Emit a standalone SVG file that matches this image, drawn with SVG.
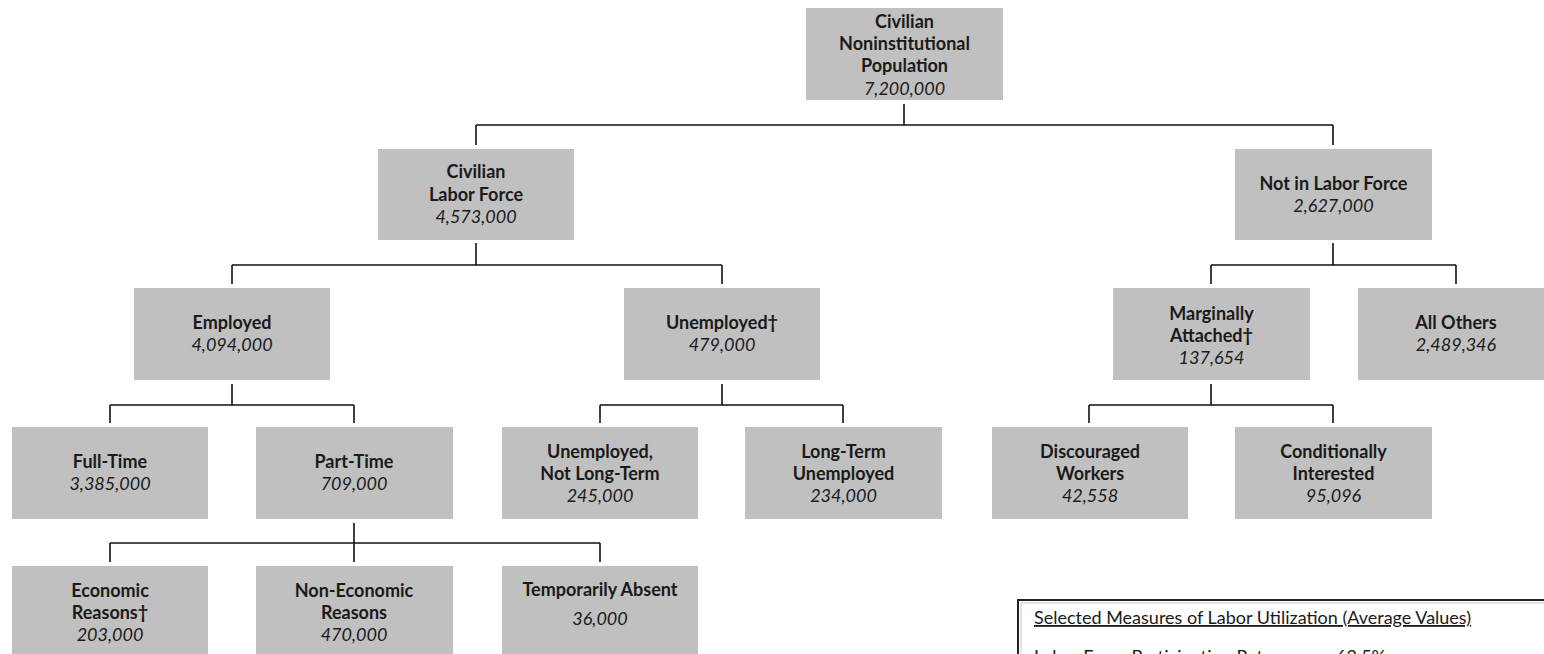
<svg xmlns="http://www.w3.org/2000/svg" width="1544" height="654" viewBox="0 0 1544 654">
<style>
.box{fill:#c0c0c0;}
.t{font-family:Lato,"Liberation Sans",sans-serif;font-size:18px;font-weight:bold;fill:#1a1a1a;text-anchor:middle;}
.n{font-family:Lato,"Liberation Sans",sans-serif;font-size:18px;font-style:italic;fill:#1a1a1a;text-anchor:middle;}
.c{fill:none;stroke:#111;stroke-width:1.6;}
.m{font-family:Lato,"Liberation Sans",sans-serif;font-size:18px;fill:#1a1a1a;}
</style>
<rect width="1544" height="654" fill="#ffffff"/>
<g id="connectors">
<path class="c" d="M904,104 V125 M476,125 H1333 M476,125 V145 M1333,125 V145"/>
<path class="c" d="M476,243 V265 M232,265 H722 M232,265 V284 M722,265 V284"/>
<path class="c" d="M1333,243 V265 M1211,265 H1456 M1211,265 V284 M1456,265 V284"/>
<path class="c" d="M232,384 V405 M110,405 H354 M110,405 V423 M354,405 V423"/>
<path class="c" d="M722,384 V405 M600,405 H843 M600,405 V423 M843,405 V423"/>
<path class="c" d="M1211,384 V405 M1089,405 H1333 M1089,405 V423 M1333,405 V423"/>
<path class="c" d="M354,523 V543 M110,543 H600 M110,543 V562 M354,543 V562 M600,543 V562"/>
</g>
<g id="root">
<rect class="box" x="806" y="8" width="197" height="92"/>
<text class="t" x="904.5" y="28">Civilian</text>
<text class="t" x="904.5" y="50">Noninstitutional</text>
<text class="t" x="904.5" y="72">Population</text>
<text class="n" x="904.5" y="95">7,200,000</text>
</g>
<g id="labor-force">
<rect class="box" x="378" y="149" width="196" height="91"/>
<text class="t" x="476" y="178">Civilian</text>
<text class="t" x="476" y="201">Labor Force</text>
<text class="n" x="476" y="223">4,573,000</text>
</g>
<g id="not-in-labor-force">
<rect class="box" x="1235" y="149" width="197" height="91"/>
<text class="t" x="1333.5" y="190">Not in Labor Force</text>
<text class="n" x="1333.5" y="212">2,627,000</text>
</g>
<g id="employed">
<rect class="box" x="134" y="288" width="196" height="92"/>
<text class="t" x="232" y="329">Employed</text>
<text class="n" x="232" y="351">4,094,000</text>
</g>
<g id="unemployed">
<rect class="box" x="624" y="288" width="196" height="92"/>
<text class="t" x="722" y="329">Unemployed†</text>
<text class="n" x="722" y="351">479,000</text>
</g>
<g id="marginally-attached">
<rect class="box" x="1113" y="288" width="197" height="92"/>
<text class="t" x="1211.5" y="320">Marginally</text>
<text class="t" x="1211.5" y="342">Attached†</text>
<text class="n" x="1211.5" y="364">137,654</text>
</g>
<g id="all-others">
<rect class="box" x="1358" y="288" width="196" height="92"/>
<text class="t" x="1456" y="329">All Others</text>
<text class="n" x="1456" y="351">2,489,346</text>
</g>
<g id="full-time">
<rect class="box" x="12" y="427" width="196" height="92"/>
<text class="t" x="110" y="468">Full-Time</text>
<text class="n" x="110" y="490">3,385,000</text>
</g>
<g id="part-time">
<rect class="box" x="256" y="427" width="197" height="92"/>
<text class="t" x="354" y="468">Part-Time</text>
<text class="n" x="354" y="490">709,000</text>
</g>
<g id="unemployed-not-long-term">
<rect class="box" x="502" y="427" width="196" height="92"/>
<text class="t" x="600" y="458">Unemployed,</text>
<text class="t" x="600" y="480">Not Long-Term</text>
<text class="n" x="600" y="502">245,000</text>
</g>
<g id="long-term-unemployed">
<rect class="box" x="745" y="427" width="197" height="92"/>
<text class="t" x="843.5" y="458">Long-Term</text>
<text class="t" x="843.5" y="480">Unemployed</text>
<text class="n" x="843.5" y="502">234,000</text>
</g>
<g id="discouraged-workers">
<rect class="box" x="992" y="427" width="196" height="92"/>
<text class="t" x="1090" y="458">Discouraged</text>
<text class="t" x="1090" y="480">Workers</text>
<text class="n" x="1090" y="502">42,558</text>
</g>
<g id="conditionally-interested">
<rect class="box" x="1235" y="427" width="197" height="92"/>
<text class="t" x="1333.5" y="458">Conditionally</text>
<text class="t" x="1333.5" y="480">Interested</text>
<text class="n" x="1333.5" y="502">95,096</text>
</g>
<g id="economic-reasons">
<rect class="box" x="12" y="566" width="196" height="100"/>
<text class="t" x="110" y="597">Economic</text>
<text class="t" x="110" y="619">Reasons†</text>
<text class="n" x="110" y="641">203,000</text>
</g>
<g id="non-economic-reasons">
<rect class="box" x="256" y="566" width="197" height="100"/>
<text class="t" x="354" y="597">Non-Economic</text>
<text class="t" x="354" y="619">Reasons</text>
<text class="n" x="354" y="641">470,000</text>
</g>
<g id="temporarily-absent">
<rect class="box" x="502" y="566" width="196" height="100"/>
<text class="t" x="600" y="596">Temporarily Absent</text>
<text class="n" x="600" y="625">36,000</text>
</g>
<g id="measures">
<rect x="1018" y="600" width="600" height="120" fill="#ffffff" stroke="#222" stroke-width="2"/>
<rect x="1021" y="603" width="600" height="120" fill="none" stroke="#c8c8c8" stroke-width="1"/>
<text class="m" x="1034" y="624" text-decoration="underline">Selected Measures of Labor Utilization (Average Values)</text>
<text class="m" x="1034" y="663">Labor Force Participation Rate:</text>
<text class="m" x="1336" y="663">63.5%</text>
</g>
</svg>
